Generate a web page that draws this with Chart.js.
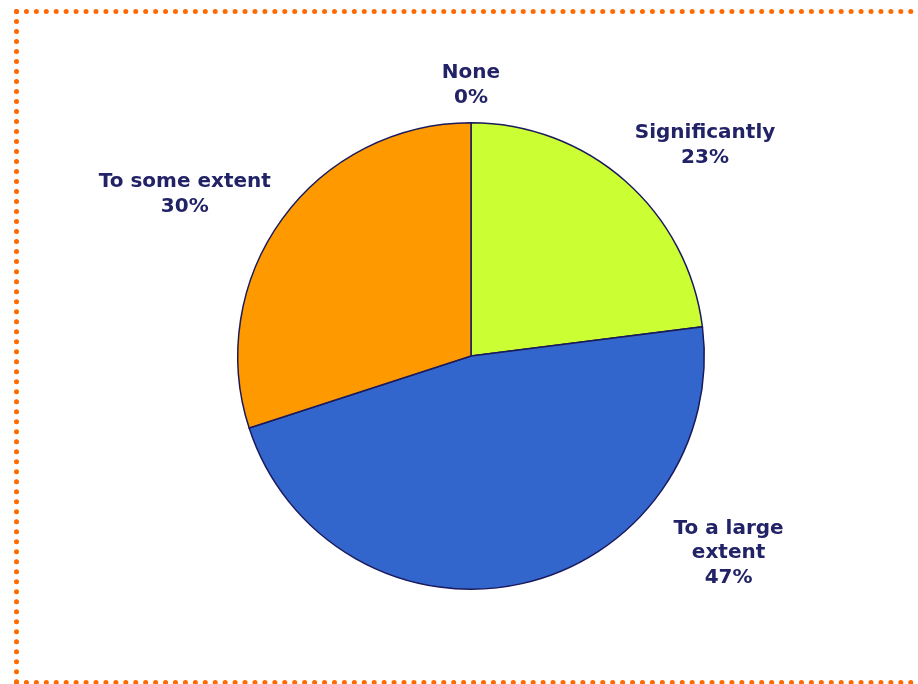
<!DOCTYPE html>
<html>
<head>
<meta charset="utf-8">
<script src="https://cdn.jsdelivr.net/npm/chart.js@4"></script>
<style>
  html, body { margin: 0; padding: 0; background: #fff; overflow: hidden; }
  #wrap { position: relative; width: 918px; height: 684px; }
  #frame {
    position: absolute; left: 14px; top: 9px; width: 930px; height: 676px;
    box-sizing: border-box; border: 5px dotted #ff6a00;
  }
  canvas { position: absolute; left: 0; top: 0; }
</style>
</head>
<body>
<div id="wrap">
  <div id="frame"></div>
  <canvas id="chart" width="918" height="684"></canvas>
</div>
<script>
// 数据
const categories = ["Significantly", "To a large extent", "To some extent", "None"];
const labelLines = [["Significantly"], ["To a large", "extent"], ["To some extent"], ["None"]];
const values = [23, 47, 30, 0];
const colors = ["#ccff33", "#3366cc", "#ff9900", "#ffffff"];

// 标签位置：相对扇区中线的角度偏移（度）与半径倍数
const labelPlace = [
  { shift: 6.6, dist: 1.35 },
  { shift: -40, dist: 1.39 },
  { shift: -6.5, dist: 1.41 },
  { shift: 0, dist: 1.16 },
];

const outsideLabels = {
  id: "outsideLabels",
  afterDatasetsDraw(chart) {
    const ctx = chart.ctx;
    const meta = chart.getDatasetMeta(0);
    ctx.save();
    ctx.fillStyle = "#222266";
    ctx.font = "bold 20px 'DejaVu Sans', Verdana, sans-serif";
    ctx.textAlign = "center";
    ctx.textBaseline = "middle";
    meta.data.forEach((arc, i) => {
      const p = arc.getProps(["x", "y", "startAngle", "endAngle", "outerRadius"], true);
      const mid = (p.startAngle + p.endAngle) / 2 + labelPlace[i].shift * Math.PI / 180;
      const r = p.outerRadius * labelPlace[i].dist;
      const cx = p.x + Math.cos(mid) * r;
      const cy = p.y + Math.sin(mid) * r;
      const lines = labelLines[i].concat([values[i] + "%"]);
      const lh = 24.5;
      const y0 = cy - (lines.length - 1) * lh / 2;
      lines.forEach((t, k) => ctx.fillText(t, cx, y0 + k * lh));
    });
    ctx.restore();
  },
};

new Chart(document.getElementById("chart"), {
  type: "pie",
  data: {
    labels: categories,
    datasets: [{
      data: values,
      backgroundColor: colors,
      borderColor: "#1a1a5c",
      borderWidth: 1.5,
      borderJoinStyle: "miter",
    }],
  },
  options: {
    responsive: false,
    animation: false,
    layout: { padding: { top: 122, bottom: 94, left: 237, right: 213 } },
    plugins: {
      legend: { display: false },
      tooltip: { enabled: false },
    },
  },
  plugins: [outsideLabels],
});
</script>
</body>
</html>
